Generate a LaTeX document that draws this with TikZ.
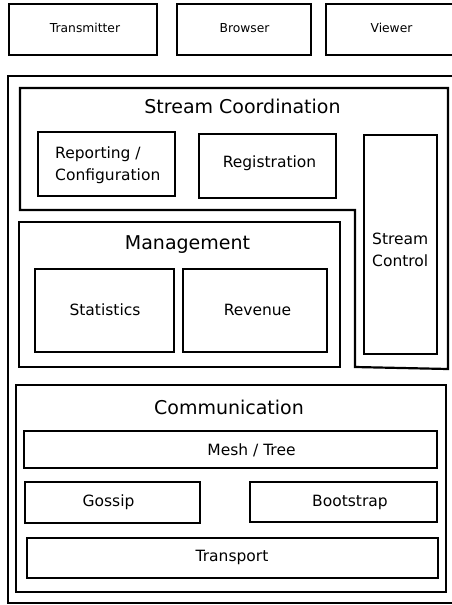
\documentclass[tikz,border=0pt]{standalone}
\usepackage{fontspec}
\setmainfont{DejaVu Sans}
\begin{document}
\begin{tikzpicture}[x=1pt,y=-1pt,
  box/.style={draw=black,line width=2.2pt,line join=miter},
  lbltop/.style={font=\fontsize{12.3}{15}\selectfont,inner sep=0pt,anchor=base},
  lblhead/.style={font=\fontsize{19}{23}\selectfont,inner sep=0pt,anchor=base},
  lbl/.style={font=\fontsize{15.5}{22.5}\selectfont,inner sep=0pt,anchor=base},
  lblml/.style={font=\fontsize{15.5}{22}\selectfont,inner sep=0pt,align=left,anchor=base west}]
\useasboundingbox (0,0) rectangle (451,605);
% top boxes
\draw[box] (9,4) rectangle (157,55);
\node[lbltop] (transmitter) at (85,32) {Transmitter};
\draw[box] (177,4) rectangle (311,55);
\node[lbltop] (browser) at (244.5,32) {Browser};
\draw[box] (326,4) rectangle (462,55);
\node[lbltop] (viewer) at (391.5,32) {Viewer};
% outer box
\draw[box] (8,76) rectangle (462,603);
% stream coordination
\draw[box] (20,88) -- (448,88) -- (448,369) -- (355,367) -- (355,210) -- (20,210) -- cycle;
\node[lblhead] (streamcoord) at (242.5,113) {Stream Coordination};
\draw[box] (38,132) rectangle (175,196);
\node[lblml] (reporting) at (55,180) {Reporting /\\Configuration};
\draw[box] (199,134) rectangle (336,198);
\node[lbl] (registration) at (269.5,167.5) {Registration};
\draw[box] (364,135) rectangle (437,354);
\node[lblml] (streamcontrol) at (372,266.5) {Stream\\Control};
% management
\draw[box] (19,222) rectangle (340,367);
\node[lblhead] (management) at (187.5,249.3) {Management};
\draw[box] (35,269) rectangle (174,352);
\node[lbl] (statistics) at (105,315.7) {Statistics};
\draw[box] (183,269) rectangle (327,352);
\node[lbl] (revenue) at (257.5,315.7) {Revenue};
% communication
\draw[box] (16,385) rectangle (446,592);
\node[lblhead] (communication) at (229,414) {Communication};
\draw[box] (24,431) rectangle (437,468);
\node[lbl] (meshtree) at (251.5,455) {Mesh / Tree};
\draw[box] (25,482) rectangle (200,523);
\node[lbl] (gossip) at (108.5,506) {Gossip};
\draw[box] (250,482) rectangle (437,522);
\node[lbl] (bootstrap) at (350,506) {Bootstrap};
\draw[box] (27,538) rectangle (438,578);
\node[lbl] (transport) at (232,561.5) {Transport};
\end{tikzpicture}
\end{document}
